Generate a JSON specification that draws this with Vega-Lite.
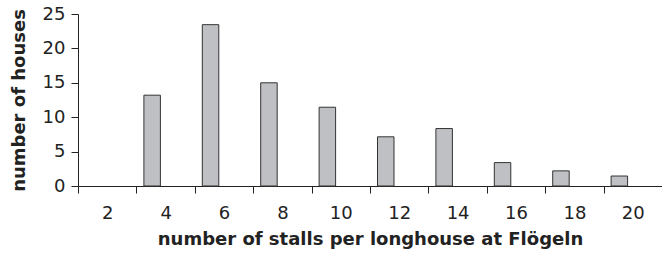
{
  "$schema": "https://vega.github.io/schema/vega-lite/v6.json",
  "width": 584,
  "height": 172,
  "autosize": {"type": "none"},
  "padding": {"left": 78, "top": 14, "right": 0, "bottom": 70},
  "background": "white",
  "config": {
    "view": {"stroke": null},
    "font": "DejaVu Sans",
    "axis": {
      "labelFont": "DejaVu Sans",
      "titleFont": "DejaVu Sans",
      "labelColor": "#222",
      "titleColor": "#222",
      "domainColor": "#222",
      "tickColor": "#222",
      "grid": false
    }
  },
  "data": {
    "values": [
      {"stalls": 2, "houses": 0, "series": "a"},
      {"stalls": 4, "houses": 13.2, "series": "a"},
      {"stalls": 6, "houses": 23.45, "series": "a"},
      {"stalls": 8, "houses": 15.0, "series": "a"},
      {"stalls": 10, "houses": 11.45, "series": "a"},
      {"stalls": 12, "houses": 7.15, "series": "a"},
      {"stalls": 14, "houses": 8.35, "series": "a"},
      {"stalls": 16, "houses": 3.4, "series": "a"},
      {"stalls": 18, "houses": 2.2, "series": "a"},
      {"stalls": 20, "houses": 1.45, "series": "a"}
    ]
  },
  "transform": [{"filter": "datum.houses > 0"}],
  "mark": {"type": "bar", "fill": "#bfc0c3", "stroke": "#333333", "strokeWidth": 1},
  "encoding": {
    "x": {
      "field": "stalls",
      "type": "ordinal",
      "scale": {"domain": [2, 4, 6, 8, 10, 12, 14, 16, 18, 20], "paddingInner": 0, "paddingOuter": 0},
      "axis": {
        "title": "number of stalls per longhouse at Flögeln",
        "labelAngle": 0,
        "labelFontSize": 18,
        "titleFontSize": 18,
        "titleFontWeight": "bold",
        "tickBand": "extent",
        "tickSize": 7,
        "labelPadding": 11,
        "titlePadding": 8,
        "domainWidth": 1,
        "tickWidth": 1
      }
    },
    "xOffset": {
      "field": "series",
      "type": "nominal",
      "scale": {"domain": ["a", "b"], "paddingInner": 0.387, "paddingOuter": 0.279}
    },
    "y": {
      "field": "houses",
      "type": "quantitative",
      "scale": {"domain": [0, 25], "nice": false},
      "axis": {
        "title": "number of houses",
        "values": [0, 5, 10, 15, 20, 25],
        "labelFontSize": 18,
        "titleFontSize": 18,
        "titleFontWeight": "bold",
        "tickSize": 7,
        "labelPadding": 6,
        "titlePadding": 14,
        "domainWidth": 1,
        "tickWidth": 1
      }
    }
  }
}
